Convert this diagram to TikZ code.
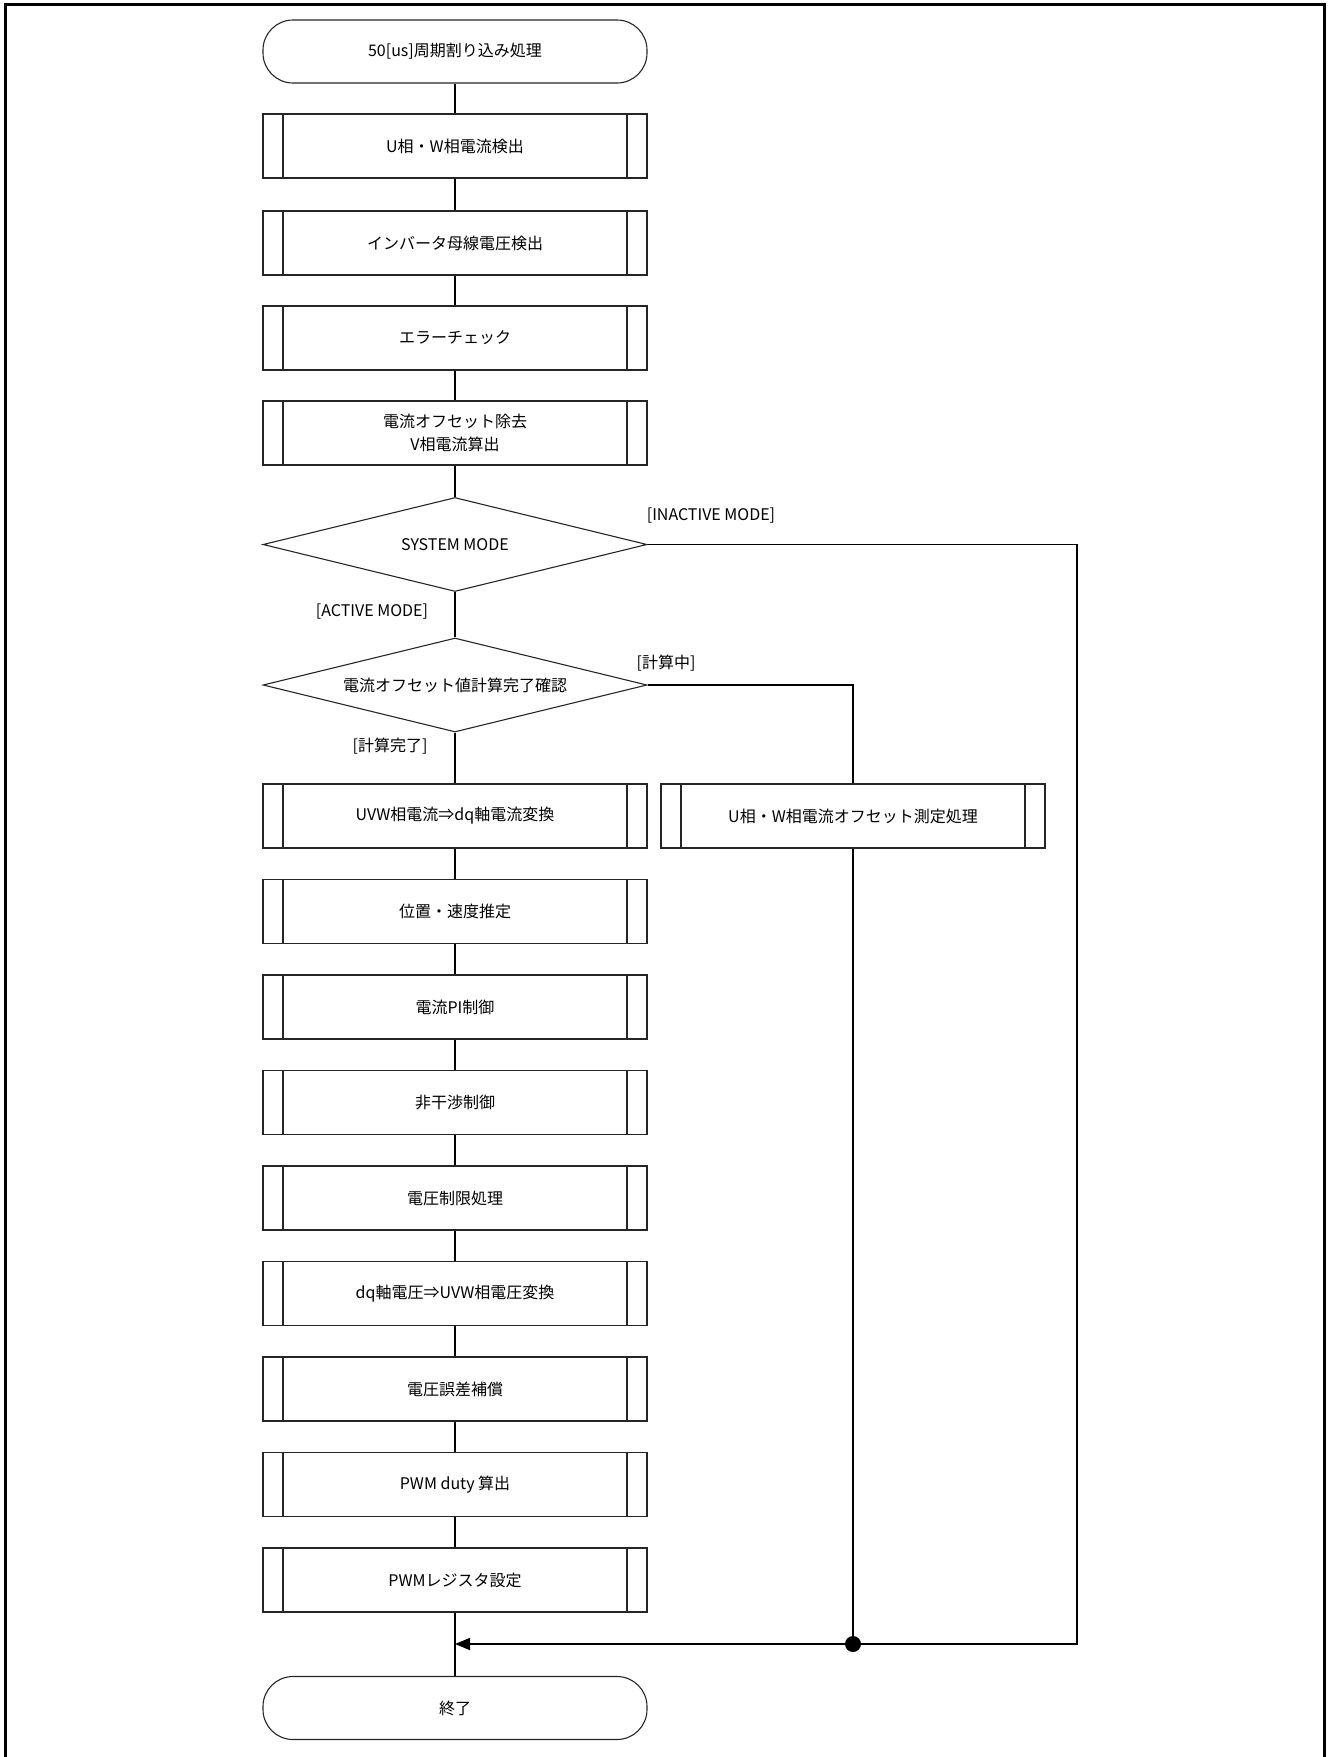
\documentclass[tikz,border=0pt]{standalone}
\usepackage{fontspec}
\setmainfont{Noto Sans CJK JP}
\usetikzlibrary{shapes.geometric,arrows.meta}
\tikzset{
  base/.style={font=\fontsize{16}{22.5}\selectfont, text=black},
  proc/.style={base, draw=black!85, line width=1.1pt, minimum width=384pt, minimum height=64pt,
    inner sep=0pt, align=center,
    path picture={\draw[line width=1.1pt, black!85]
      ([xshift=20pt]path picture bounding box.north west) -- ([xshift=20pt]path picture bounding box.south west)
      ([xshift=-20pt]path picture bounding box.north east) -- ([xshift=-20pt]path picture bounding box.south east);}},
  term/.style={base, draw=black!85, line width=1.1pt, rounded corners=30pt, minimum width=384pt, minimum height=63pt, inner sep=0pt},
  dec/.style={base, draw=black!85, line width=1.1pt, diamond, aspect=4.085, minimum width=384pt, minimum height=94pt, inner sep=0pt},
  lbl/.style={base, inner sep=0pt},
  conn/.style={line width=1.7pt, black},
}
\begin{document}
\begin{tikzpicture}[x=1pt,y=-1pt]
\useasboundingbox (0,0) rectangle (1328,1757);
\draw[line width=3pt] (5,1757) -- (5,4) -- (1324.5,4) -- (1324.5,1757);

\node[term] (start) at (455,51.5) {50[us]周期割り込み処理};
\node[proc] (b1) at (455,146) {U相・W相電流検出};
\node[proc] (b2) at (455,243) {インバータ母線電圧検出};
\node[proc] (b3) at (455,338) {エラーチェック};
\node[proc] (b4) at (455,433) {電流オフセット除去\\V相電流算出};
\node[dec] (d1) at (455,544.5) {SYSTEM MODE};
\node[dec] (d2) at (455,685) {電流オフセット値計算完了確認};
\node[proc] (p1) at (455,816) {UVW相電流⇒dq軸電流変換};
\node[proc] (p2) at (455,911.5) {位置・速度推定};
\node[proc] (p3) at (455,1007) {電流PI制御};
\node[proc] (p4) at (455,1102.5) {非干渉制御};
\node[proc] (p5) at (455,1198) {電圧制限処理};
\node[proc] (p6) at (455,1293.5) {dq軸電圧⇒UVW相電圧変換};
\node[proc] (p7) at (455,1389) {電圧誤差補償};
\node[proc] (p8) at (455,1484.5) {PWM duty 算出};
\node[proc] (p9) at (455,1580) {PWMレジスタ設定};
\node[proc] (off) at (853,816) {U相・W相電流オフセット測定処理};
\node[term] (fin) at (455,1708) {終了};

\node[lbl] (l1) at (711,516) {[INACTIVE MODE]};
\node[lbl] (l2) at (372,612) {[ACTIVE MODE]};
\node[lbl] (l3) at (666,663) {[計算中]};
\node[lbl] (l4) at (390,746) {[計算完了]};

\coordinate (m) at (455,1644);
\coordinate (r1) at (1077,544.5);
\coordinate (r2) at (1077,1644);
\coordinate (o1) at (853,685);
\coordinate (dot) at (853,1644);

\draw[conn] (start) -- (b1);
\draw[conn] (b1) -- (b2);
\draw[conn] (b2) -- (b3);
\draw[conn] (b3) -- (b4);
\draw[conn] (b4) -- (d1);
\draw[conn] (d1) -- (d2);
\draw[conn] (d2) -- (p1);
\draw[conn] (p1) -- (p2);
\draw[conn] (p2) -- (p3);
\draw[conn] (p3) -- (p4);
\draw[conn] (p4) -- (p5);
\draw[conn] (p5) -- (p6);
\draw[conn] (p6) -- (p7);
\draw[conn] (p7) -- (p8);
\draw[conn] (p8) -- (p9);
\draw[conn] (p9) -- (fin);
\draw[conn] (d1.east) -- (r1) -- (r2) -- (dot);
\draw[conn] (d2.east) -- (o1) -- (off.north);
\draw[conn] (off.south) -- (dot);
\draw[conn, -{Triangle[length=15pt,width=12pt]}] (dot) -- (m);
\fill (dot) circle (8pt);
\end{tikzpicture}
\end{document}
